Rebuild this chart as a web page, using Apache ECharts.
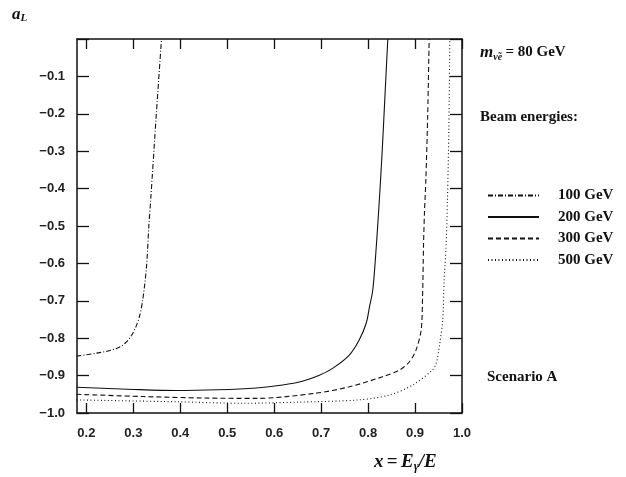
<!DOCTYPE html>
<html>
<head>
<meta charset="utf-8">
<script src="https://cdn.jsdelivr.net/npm/echarts@6/dist/echarts.min.js"></script>
<style>
  html, body { margin: 0; padding: 0; background: #fff; }
  #chart { width: 626px; height: 477px; }
</style>
</head>
<body>
<div id="chart"></div>
<script>
// x = E_gamma / E, a_L values
var beam100X = [0.179, 0.222, 0.25, 0.272, 0.286, 0.296, 0.305, 0.313, 0.32, 0.328, 0.333, 0.337, 0.349, 0.36];
var beam100Y = [-0.848, -0.84, -0.833, -0.823, -0.809, -0.793, -0.771, -0.742, -0.698, -0.609, -0.5, -0.43, -0.2, 0];

var beam200X = [0.179, 0.3, 0.392, 0.48, 0.562, 0.618, 0.66, 0.695, 0.725, 0.76, 0.781, 0.796, 0.803, 0.81, 0.816, 0.823, 0.83, 0.836, 0.842];
var beam200Y = [-0.931, -0.937, -0.94, -0.938, -0.933, -0.925, -0.915, -0.9, -0.88, -0.845, -0.805, -0.76, -0.716, -0.671, -0.58, -0.45, -0.3, -0.15, 0];

var beam300X = [0.179, 0.321, 0.45, 0.562, 0.689, 0.76, 0.831, 0.867, 0.888, 0.902, 0.913, 0.916, 0.918, 0.92, 0.923, 0.927, 0.93];
var beam300Y = [-0.95, -0.956, -0.96, -0.961, -0.947, -0.93, -0.903, -0.885, -0.863, -0.832, -0.778, -0.689, -0.555, -0.466, -0.377, -0.2, 0];

var beam500X = [0.179, 0.392, 0.534, 0.65, 0.78, 0.845, 0.895, 0.937, 0.945, 0.952, 0.959, 0.962, 0.966, 0.969, 0.972, 0.974];
var beam500Y = [-0.965, -0.97, -0.974, -0.971, -0.965, -0.952, -0.925, -0.885, -0.867, -0.82, -0.751, -0.644, -0.555, -0.43, -0.24, 0];

var xTicks = [0.2, 0.3, 0.4, 0.5, 0.6, 0.7, 0.8, 0.9, 1.0];
var legendNames = ['100 GeV', '200 GeV', '300 GeV', '500 GeV'];

function pairs(xs, ys) {
	var out = [];
	for (var i = 0; i < xs.length; i++) out.push([xs[i], ys[i]]);
	return out;
}

var chart = echarts.init(document.getElementById('chart'));
var serifFont = '"Liberation Serif", "DejaVu Serif", serif';
var tickFont = '"Liberation Sans", "DejaVu Sans", sans-serif';

function lineSeries(name, data, type) {
	return {
		name: name,
		type: 'line',
		data: data,
		symbol: 'none',
		showSymbol: false,
		smooth: 0.3,
		lineStyle: { color: '#111', width: 1.1, type: type },
		itemStyle: { color: '#111' },
		silent: true,
		animation: false
	};
}

var frameLine = { show: true, onZero: false, lineStyle: { color: '#111', width: 1.5 } };

var option = {
	backgroundColor: '#fff',
	animation: false,
	grid: { left: 77, top: 39, right: 164, bottom: 64 },
	legend: {
		orient: 'vertical',
		left: 482,
		top: 183,
		itemWidth: 51,
		itemHeight: 14,
		itemGap: 6.5,
		data: legendNames,
		itemStyle: { opacity: 0 },
		textStyle: { fontFamily: serifFont, fontWeight: 'bold', fontSize: 15, color: '#111', padding: [0, 0, 0, 14] }
	},
	xAxis: [{
		type: 'value', position: 'bottom', min: 0.18, max: 1.0,
		axisLine: frameLine,
		axisTick: { show: true, inside: true, length: 10, customValues: xTicks, lineStyle: { color: '#111', width: 1.3 } },
		axisLabel: {
			customValues: xTicks, margin: 14, color: '#222', fontFamily: tickFont, fontWeight: 'bold', fontSize: 13,
			formatter: function (v) { return v.toFixed(1); }
		},
		splitLine: { show: false }
	}, {
		type: 'value', position: 'top', min: 0.18, max: 1.0,
		axisLine: frameLine,
		axisTick: { show: true, inside: true, length: 10, customValues: xTicks, lineStyle: { color: '#111', width: 1.3 } },
		axisLabel: { show: false },
		splitLine: { show: false }
	}],
	yAxis: [{
		type: 'value', position: 'left', min: -1.0, max: 0, interval: 0.1,
		axisLine: frameLine,
		axisTick: { show: true, inside: true, length: 12, lineStyle: { color: '#111', width: 1.3 } },
		axisLabel: {
			margin: 12, color: '#222', fontFamily: tickFont, fontWeight: 'bold', fontSize: 13,
			formatter: function (v) { return v === 0 ? '' : v.toFixed(1).replace('-', '\u2212'); }
		},
		splitLine: { show: false }
	}, {
		type: 'value', position: 'right', min: -1.0, max: 0, interval: 0.1,
		axisLine: frameLine,
		axisTick: { show: true, inside: true, length: 12, lineStyle: { color: '#111', width: 1.3 } },
		axisLabel: { show: false },
		splitLine: { show: false }
	}],
	graphic: [{
		type: 'text', left: 12, top: 6,
		style: {
			rich: {
				a: { fontFamily: serifFont, fontStyle: 'italic', fontWeight: 'bold', fontSize: 17, fill: '#111' },
				s: { fontFamily: serifFont, fontStyle: 'italic', fontWeight: 'bold', fontSize: 11, fill: '#111', padding: [8, 0, 0, 0] }
			},
			text: '{a|a}{s|L}'
		}
	}, {
		type: 'text', left: 374, top: 453,
		style: {
			rich: {
				i: { fontFamily: serifFont, fontStyle: 'italic', fontWeight: 'bold', fontSize: 19, fill: '#111' },
				n: { fontFamily: serifFont, fontWeight: 'bold', fontSize: 19, fill: '#111' },
				s: { fontFamily: serifFont, fontStyle: 'italic', fontWeight: 'bold', fontSize: 12, fill: '#111', padding: [9, 0, 0, 0] }
			},
			text: '{i|x} {n|=} {i|E}{s|γ}{i|/E}'
		}
	}, {
		type: 'text', left: 480, top: 44,
		style: {
			rich: {
				i: { fontFamily: serifFont, fontStyle: 'italic', fontWeight: 'bold', fontSize: 17, fill: '#111' },
				n: { fontFamily: serifFont, fontWeight: 'bold', fontSize: 15, fill: '#111' },
				s: { fontFamily: serifFont, fontStyle: 'italic', fontWeight: 'bold', fontSize: 10, fill: '#111', padding: [9, 0, 0, 0] }
			},
			text: '{i|m}{s|ν̃e} {n|= 80 GeV}'
		}
	}, {
		type: 'text', left: 480, top: 110,
		style: { text: 'Beam energies:', fontFamily: serifFont, fontWeight: 'bold', fontSize: 15, fill: '#111' }
	}, {
		type: 'text', left: 487, top: 370,
		style: { text: 'Scenario A', fontFamily: serifFont, fontWeight: 'bold', fontSize: 15, fill: '#111' }
	}],
	series: [
		lineSeries(legendNames[0], pairs(beam100X, beam100Y), [5, 2, 1, 2]),
		lineSeries(legendNames[1], pairs(beam200X, beam200Y), 'solid'),
		lineSeries(legendNames[2], pairs(beam300X, beam300Y), [5, 3]),
		lineSeries(legendNames[3], pairs(beam500X, beam500Y), [1, 2.5])
	]
};

chart.setOption(option);
</script>
</body>
</html>
